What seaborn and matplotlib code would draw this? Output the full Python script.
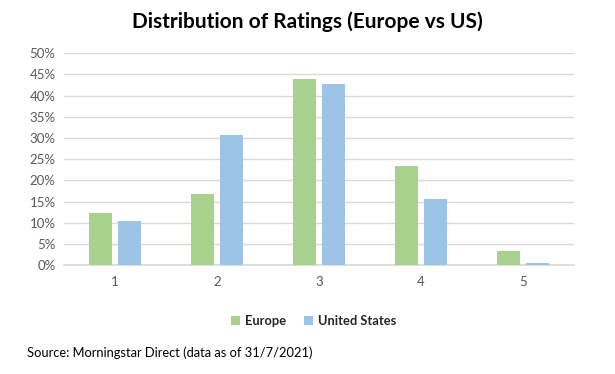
import pandas as pd
import seaborn as sns
import matplotlib.pyplot as plt
from matplotlib.ticker import PercentFormatter

# data
ratings = ['1', '2', '3', '4', '5']
europe = [0.122, 0.168, 0.439, 0.233, 0.034]
us = [0.104, 0.308, 0.427, 0.156, 0.006]
series = ['Europe', 'United States']
colors = ['#A9D18E', '#9DC3E6']

df = pd.DataFrame({
    'Rating': ratings * 2,
    'Share': europe + us,
    'Region': [series[0]] * len(ratings) + [series[1]] * len(ratings),
})

sns.set_theme(style='white')
plt.rcParams['font.family'] = ['Lato', 'DejaVu Sans']

fig = plt.figure(figsize=(6.15, 3.74), dpi=100)
ax = fig.add_axes([0.104, 0.291, 0.829, 0.567])

sns.barplot(data=df, x='Rating', y='Share', hue='Region', palette=colors,
            saturation=1, width=0.557, gap=0.19, linewidth=0, ax=ax, legend=True)

ax.set_ylim(0, 0.5)
ax.set_yticks([i * 0.05 for i in range(11)])
ax.yaxis.set_major_formatter(PercentFormatter(1.0, decimals=0))
ax.grid(axis='y', color='#D9D9D9', linewidth=1)
ax.set_axisbelow(True)
for s in ['top', 'right', 'left']:
    ax.spines[s].set_visible(False)
ax.spines['bottom'].set_color('#D9D9D9')
ax.spines['bottom'].set_zorder(0.5)
ax.tick_params(axis='both', length=0, labelsize=9.5, colors='#595959')
ax.tick_params(axis='x', pad=8)
ax.tick_params(axis='y', pad=6)
ax.set_xlabel('')
ax.set_ylabel('')

ax.legend(loc='center', bbox_to_anchor=(0.49, -0.265), ncol=2, frameon=False,
          handlelength=0.7, handleheight=0.7, handletextpad=0.4,
          columnspacing=1.4, prop={'weight': 'bold', 'size': 9.3})

fig.text(0.5, 0.941, 'Distribution of Ratings (Europe vs US)', ha='center',
         va='center', fontsize=15, fontweight='bold', color='black')
fig.text(0.044, 0.056, 'Source: Morningstar Direct (data as of 31/7/2021)',
         ha='left', va='center', fontsize=9.3, color='black')

fig.savefig('out.png', dpi=100)
